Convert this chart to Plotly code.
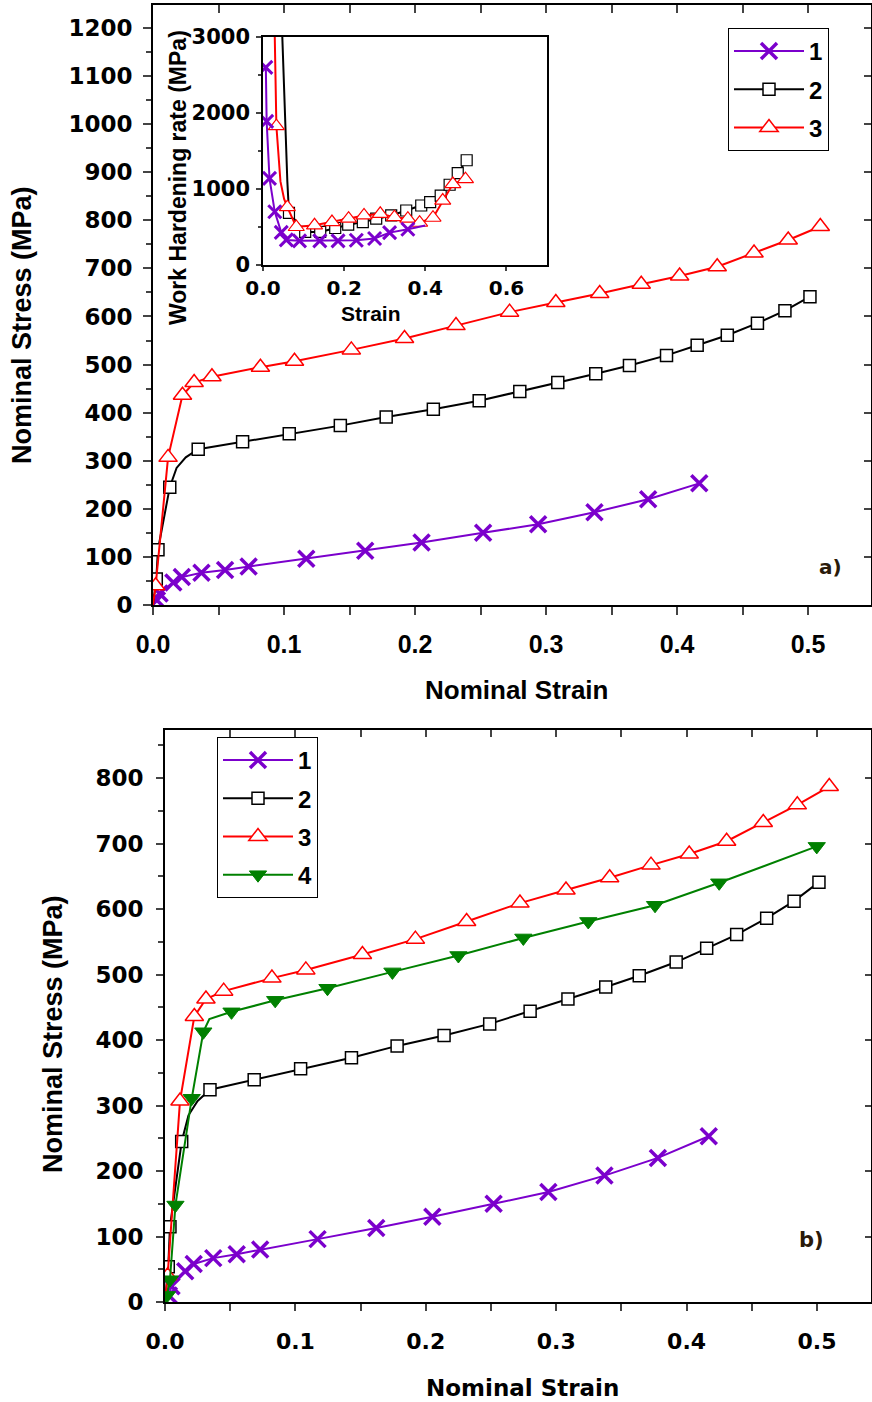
import plotly.graph_objects as go

PURPLE = "#7B00CC"
RED = "#FF0000"
BLACK = "#000000"
GREEN = "#008000"

# ---------------- Stress-strain data (markers + extra curve points) ----------------
s1_strain = [0.003, 0.005, 0.0155, 0.022, 0.037, 0.055, 0.073, 0.117, 0.162, 0.205, 0.252, 0.294, 0.337, 0.378, 0.417]
s1_stress = [10, 24, 47, 58, 67, 73, 80, 96, 113, 130, 150, 168, 193, 220, 253]
s1_extra_strain = [0.0]
s1_extra_stress = [0]

s2_strain = [0.0025, 0.0038, 0.0128, 0.0345, 0.0684, 0.104, 0.143, 0.178, 0.214, 0.249, 0.280, 0.309, 0.338,
             0.3637, 0.392, 0.4154, 0.4384, 0.4614, 0.4824, 0.5015]
s2_stress = [54, 115, 245, 324, 339.5, 356, 373, 391, 407, 424.6, 444, 462.6, 481, 498, 519, 540, 561, 586, 612, 641]
s2_extra_strain = [0.0, 0.018, 0.025]
s2_extra_stress = [0, 285, 307]

s3_strain = [0.002, 0.0115, 0.0225, 0.0314, 0.045, 0.082, 0.108, 0.1514, 0.192, 0.2313, 0.2722, 0.3075, 0.341,
             0.3727, 0.402, 0.4307, 0.4588, 0.4849, 0.5094]
s3_stress = [40, 307, 436, 462.6, 474.6, 494.5, 507, 530.5, 554, 581, 609, 629, 647.6, 667, 684, 703.5, 732, 759, 787]
s3_extra_strain = [0.0]
s3_extra_stress = [0]

s4_strain = [0.0015, 0.0038, 0.008, 0.0205, 0.0294, 0.051, 0.0845, 0.1246, 0.1744, 0.225, 0.2748, 0.3246, 0.3758,
             0.425, 0.4998]
s4_stress = [10, 34, 148, 311, 412.6, 443, 460.6, 479, 504, 529, 555.8, 581, 605.7, 640, 695.6]
s4_extra_strain = [0.0, 0.034]
s4_extra_stress = [0, 432]

# ---------------- Inset: work hardening rate ----------------
w1_strain = [0.007, 0.009, 0.016, 0.029, 0.045, 0.0575, 0.090, 0.140, 0.185, 0.230, 0.275, 0.312, 0.357]
w1_rate = [2600, 1890, 1140, 700, 430, 330, 318, 318, 318, 326, 348, 426, 470]
w1_extra_strain = [0.40]
w1_extra_rate = [520]

w2_strain = [0.064, 0.104, 0.141, 0.178, 0.210, 0.246, 0.279, 0.316, 0.353, 0.390, 0.412, 0.438, 0.460, 0.480, 0.502]
w2_rate = [687, 435, 435, 487, 530, 565, 609, 652, 717, 783, 826, 913, 1056, 1209, 1378]
w2_extra_strain = [0.0476, 0.055, 0.060]
w2_extra_rate = [3000, 1750, 1100]

w3_strain = [0.033, 0.060, 0.082, 0.127, 0.170, 0.211, 0.249, 0.289, 0.324, 0.357, 0.386, 0.419, 0.443, 0.468, 0.499]
w3_rate = [1826, 761, 500, 522, 565, 609, 652, 674, 630, 609, 556, 622, 848, 1065, 1130]
w3_extra_strain = [0.029, 0.043, 0.052]
w3_extra_rate = [3000, 1100, 870]


def merge(mx, my, ex, ey):
    pts = sorted(zip(list(mx) + list(ex), list(my) + list(ey)))
    return [p[0] for p in pts], [p[1] for p in pts]


fig = go.Figure()

main_markers = {
    "1": dict(symbol="x-thin", size=16, color=PURPLE, line=dict(color=PURPLE, width=3.5)),
    "2": dict(symbol="square", size=12, color="white", line=dict(color=BLACK, width=1.5)),
    "3": dict(symbol="triangle-up", size=16, color="white", line=dict(color=RED, width=1.5)),
    "4": dict(symbol="triangle-down", size=15, color=GREEN, line=dict(color=GREEN, width=1)),
}
colors = {"1": PURPLE, "2": BLACK, "3": RED, "4": GREEN}
series = {
    "1": (s1_strain, s1_stress, s1_extra_strain, s1_extra_stress),
    "2": (s2_strain, s2_stress, s2_extra_strain, s2_extra_stress),
    "3": (s3_strain, s3_stress, s3_extra_strain, s3_extra_stress),
    "4": (s4_strain, s4_stress, s4_extra_strain, s4_extra_stress),
}


def add_series(name, xa, ya, legend, prefix, lw=2):
    mx, my, ex, ey = series[name]
    lx, ly = merge(mx, my, ex, ey)
    grp = prefix + name
    fig.add_trace(go.Scatter(x=lx, y=ly, mode="lines", line=dict(color=colors[name], width=lw),
                             xaxis=xa, yaxis=ya, showlegend=False, legendgroup=grp, hoverinfo="skip"))
    fig.add_trace(go.Scatter(x=mx, y=my, mode="markers", marker=main_markers[name],
                             xaxis=xa, yaxis=ya, showlegend=False, legendgroup=grp))
    # legend entry (no data)
    fig.add_trace(go.Scatter(x=[None], y=[None], mode="lines+markers", name=name,
                             line=dict(color=colors[name], width=lw), marker=main_markers[name],
                             xaxis=xa, yaxis=ya, showlegend=True, legend=legend, legendgroup=grp))


for n in ["1", "2", "3"]:
    add_series(n, "x", "y", "legend", "a")
for n in ["1", "2", "3", "4"]:
    add_series(n, "x4", "y4", "legend2", "b")

# inset
inset = [
    (w2_strain, w2_rate, w2_extra_strain, w2_extra_rate, BLACK,
     dict(symbol="square", size=11, color="white", line=dict(color=BLACK, width=1.2))),
    (w3_strain, w3_rate, w3_extra_strain, w3_extra_rate, RED,
     dict(symbol="triangle-up", size=14, color="white", line=dict(color=RED, width=1.2))),
    (w1_strain, w1_rate, w1_extra_strain, w1_extra_rate, PURPLE,
     dict(symbol="x-thin", size=13, color=PURPLE, line=dict(color=PURPLE, width=3))),
]
for mx, my, ex, ey, c, mk in inset:
    lx, ly = merge(mx, my, ex, ey)
    fig.add_trace(go.Scatter(x=lx, y=ly, mode="lines", line=dict(color=c, width=2),
                             xaxis="x2", yaxis="y2", showlegend=False, hoverinfo="skip"))
    fig.add_trace(go.Scatter(x=mx, y=my, mode="markers", marker=mk,
                             xaxis="x2", yaxis="y2", showlegend=False))

# empty traces to materialise the mirror (tick-only) axes
for xa, ya in [("x3", "y"), ("x", "y3"), ("x5", "y4"), ("x4", "y5")]:
    fig.add_trace(go.Scatter(x=[], y=[], xaxis=xa, yaxis=ya, showlegend=False, hoverinfo="skip"))

W, H = 872, 1402


def px(x):
    return x / W


def py(y):
    return 1 - y / H


DV = "DejaVu Sans"
LS = "Liberation Sans"

# geometry
A_x = [px(153), px(871)]
A_y = [py(605), py(5)]
I_x = [px(263), px(547)]
I_y = [py(265), py(37)]
B_x = [px(165), px(871)]
B_y = [py(1302), py(730)]

A_xr = [0, (871 - 153) / 1310.0]
A_yr = [0, 600 / 0.4809]
B_xr = [0, (871 - 165) / 1304.0]
B_yr = [0, 572 / 0.655]

common_line = dict(showline=True, linecolor="black", showgrid=False, zeroline=False, automargin=False)

fig.update_layout(
    width=W, height=H, margin=dict(l=0, r=0, t=0, b=0, pad=0, autoexpand=False),
    paper_bgcolor="white", plot_bgcolor="white",
    showlegend=True,
    xaxis=dict(domain=A_x, anchor="y", range=A_xr, tick0=0, dtick=0.1, tickformat=".1f",
               ticks="outside", ticklen=8, tickwidth=2, linewidth=2, ticklabelstandoff=8,
               minor=dict(ticks="outside", dtick=0.05, ticklen=8, tickwidth=2),
               tickfont=dict(family=LS, size=25, color="black", weight="bold"), **common_line),
    yaxis=dict(domain=A_y, anchor="x", range=A_yr, tick0=0, dtick=100,
               ticks="outside", ticklen=8, tickwidth=2, linewidth=2, ticklabelstandoff=6,
               minor=dict(ticks="outside", dtick=50, ticklen=5, tickwidth=2),
               tickfont=dict(family=DV, size=23, color="black", weight="bold"), **common_line),
    xaxis3=dict(overlaying="x", side="top", anchor="y", range=A_xr, tick0=0, dtick=0.05,
                ticks="inside", ticklen=8, tickwidth=2, linewidth=2, showticklabels=False, **common_line),
    yaxis3=dict(overlaying="y", side="right", anchor="x", range=A_yr, tick0=0, dtick=100,
                ticks="inside", ticklen=7, tickwidth=2, linewidth=2, showticklabels=False, **common_line),
    xaxis2=dict(domain=I_x, anchor="y2", range=[0, 0.70], tick0=0, dtick=0.2, tickformat=".1f",
                ticks="outside", ticklen=4, tickwidth=1.5, linewidth=1.5, mirror=True, ticklabelstandoff=0,
                tickfont=dict(family=DV, size=20, color="black", weight="bold"), **common_line),
    yaxis2=dict(domain=I_y, anchor="x2", range=[0, 3000], tick0=0, dtick=1000,
                ticks="outside", ticklen=5, tickwidth=1.5, linewidth=1.5, mirror=True, ticklabelstandoff=2,
                minor=dict(ticks="outside", dtick=500, ticklen=3, tickwidth=1.5),
                tickfont=dict(family=DV, size=21, color="black", weight="bold"), **common_line),
    xaxis4=dict(domain=B_x, anchor="y4", range=B_xr, tick0=0, dtick=0.1, tickformat=".1f",
                ticks="outside", ticklen=7, tickwidth=2, linewidth=2, ticklabelstandoff=12,
                minor=dict(ticks="outside", dtick=0.05, ticklen=7, tickwidth=2),
                tickfont=dict(family=DV, size=22, color="black", weight="bold"), **common_line),
    yaxis4=dict(domain=B_y, anchor="x4", range=B_yr, tick0=0, dtick=100,
                ticks="outside", ticklen=7, tickwidth=2, linewidth=2, ticklabelstandoff=8,
                minor=dict(ticks="outside", dtick=50, ticklen=5, tickwidth=2),
                tickfont=dict(family=DV, size=23, color="black", weight="bold"), **common_line),
    xaxis5=dict(overlaying="x4", side="top", anchor="y4", range=B_xr, tick0=0, dtick=0.05,
                ticks="inside", ticklen=7, tickwidth=2, linewidth=2, showticklabels=False, **common_line),
    yaxis5=dict(overlaying="y4", side="right", anchor="x4", range=B_yr, tick0=0, dtick=100,
                ticks="inside", ticklen=6, tickwidth=2, linewidth=2, showticklabels=False, **common_line),
    legend=dict(x=px(728), y=py(28), xanchor="left", yanchor="top", bgcolor="white",
                bordercolor="black", borderwidth=1, tracegroupgap=4, itemwidth=70,
                font=dict(family=LS, size=24, color="black", weight="bold")),
    legend2=dict(x=px(217), y=py(737), xanchor="left", yanchor="top", bgcolor="white",
                 bordercolor="black", borderwidth=1, tracegroupgap=4, itemwidth=70,
                 font=dict(family=LS, size=24, color="black", weight="bold")),
)

ann = [
    dict(text="Nominal Stress (MPa)", x=px(22), y=py(325), textangle=-90, font=dict(family=LS, size=27, weight="bold")),
    dict(text="Nominal Strain", x=px(516), y=py(690), font=dict(family=LS, size=26, weight="bold")),
    dict(text="Work Hardening rate (MPa)", x=px(178), y=py(178), textangle=-90, font=dict(family=LS, size=23, weight="bold")),
    dict(text="Strain", x=px(371), y=py(313), font=dict(family=LS, size=21, weight="bold")),
    dict(text="Nominal Stress (MPa)", x=px(53), y=py(1034), textangle=-90, font=dict(family=LS, size=27, weight="bold")),
    dict(text="Nominal Strain", x=px(522), y=py(1388), font=dict(family=DV, size=23, weight="bold")),
    dict(text="a)", x=px(830), y=py(567), font=dict(family=DV, size=20, weight="bold", color="#2a1a0a")),
    dict(text="b)", x=px(811), y=py(1240), font=dict(family=DV, size=21, weight="bold", color="#2a1a0a")),
]
for a in ann:
    a["font"].setdefault("color", "black")
    fig.add_annotation(xref="paper", yref="paper", showarrow=False, xanchor="center", yanchor="middle", **a)

fig.write_html("out.html")
